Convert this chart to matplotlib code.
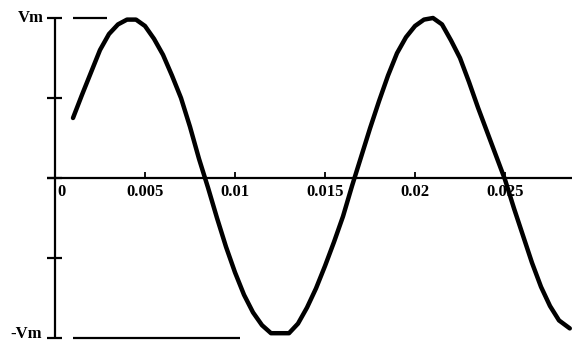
import matplotlib
matplotlib.use("Agg")
import matplotlib.pyplot as plt

# Sampled voltage waveform (seconds, fraction of Vm)
t = [0.0010, 0.0015, 0.0020, 0.0025, 0.0030, 0.0035, 0.0040, 0.0045, 0.0050,
     0.0055, 0.0060, 0.0065, 0.0070, 0.0075, 0.0080, 0.0085, 0.0090, 0.0095,
     0.0100, 0.0105, 0.0110, 0.0115, 0.0120, 0.0125, 0.0130, 0.0135, 0.0140,
     0.0145, 0.0150, 0.0155, 0.0160, 0.0165, 0.0170, 0.0175, 0.0180, 0.0185,
     0.0190, 0.0195, 0.0200, 0.0205, 0.0210, 0.0215, 0.0220, 0.0225, 0.0230,
     0.0235, 0.0240, 0.0245, 0.0250, 0.0255, 0.0260, 0.0265, 0.0270, 0.0275,
     0.0280, 0.0286]
v = [0.375, 0.52, 0.66, 0.80, 0.90, 0.96, 0.99, 0.99, 0.95,
     0.87, 0.77, 0.64, 0.50, 0.32, 0.12, -0.06, -0.25, -0.43,
     -0.59, -0.73, -0.84, -0.92, -0.97, -0.97, -0.97, -0.91, -0.81,
     -0.69, -0.55, -0.40, -0.24, -0.05, 0.13, 0.31, 0.48, 0.64,
     0.78, 0.88, 0.95, 0.99, 1.00, 0.96, 0.86, 0.75, 0.60,
     0.44, 0.29, 0.14, -0.01, -0.19, -0.36, -0.53, -0.68, -0.80,
     -0.89, -0.94]

# Axis ticks and labels
x_ticks = [0.0, 0.005, 0.01, 0.015, 0.02, 0.025]
x_labels = ["0", "0.005", "0.01", "0.015", "0.02", "0.025"]
y_ticks = [-1.0, -0.5, 0.0, 0.5, 1.0]
y_labels = {1.0: "Vm", -1.0: "-Vm"}

# Reference level marks at +Vm and -Vm
vm_mark_t = [0.001, 0.0029]
neg_vm_mark_t = [0.001, 0.0103]

fig = plt.figure(figsize=(5.72, 3.41), dpi=100)
ax = fig.add_axes([0, 0, 1, 1])
ax.set_xlim(-55 / 18000, 517 / 18000)
ax.set_ylim(-1 - 3 / 160, 1 + 18 / 160)
ax.axis("off")

font = dict(family="Liberation Serif", weight="bold", size=12, color="black")

# axes lines
ax.plot([0, 0], [-1, 1], color="black", lw=1.6, solid_capstyle="butt")
ax.plot([-8 / 18000, 0.0287], [0, 0], color="black", lw=1.6, solid_capstyle="butt")

# y ticks crossing the vertical axis
for yv in y_ticks:
    ax.plot([-8 / 18000, 7 / 18000], [yv, yv], color="black", lw=1.6,
            solid_capstyle="butt")
ax.text(-11 / 18000, 1.0, y_labels[1.0], ha="right", va="center", **font)
ax.text(-13 / 18000, -0.975, y_labels[-1.0], ha="right", va="center", **font)

# x ticks just above the horizontal axis
for xv, lab in zip(x_ticks, x_labels):
    if xv > 0:
        ax.plot([xv, xv], [0, 0.04], color="black", lw=1.3, solid_capstyle="butt")
    xpos = xv + (6 / 18000 if xv == 0 else 0)
    ax.text(xpos, -0.035, lab, ha="center", va="top", **font)

# level marks
ax.plot(vm_mark_t, [1, 1], color="black", lw=1.6, solid_capstyle="butt")
ax.plot(neg_vm_mark_t, [-1, -1], color="black", lw=1.6, solid_capstyle="butt")

# waveform
ax.plot(t, v, color="black", lw=3.2, solid_joinstyle="round", solid_capstyle="round")

fig.savefig("out.png", dpi=100)
